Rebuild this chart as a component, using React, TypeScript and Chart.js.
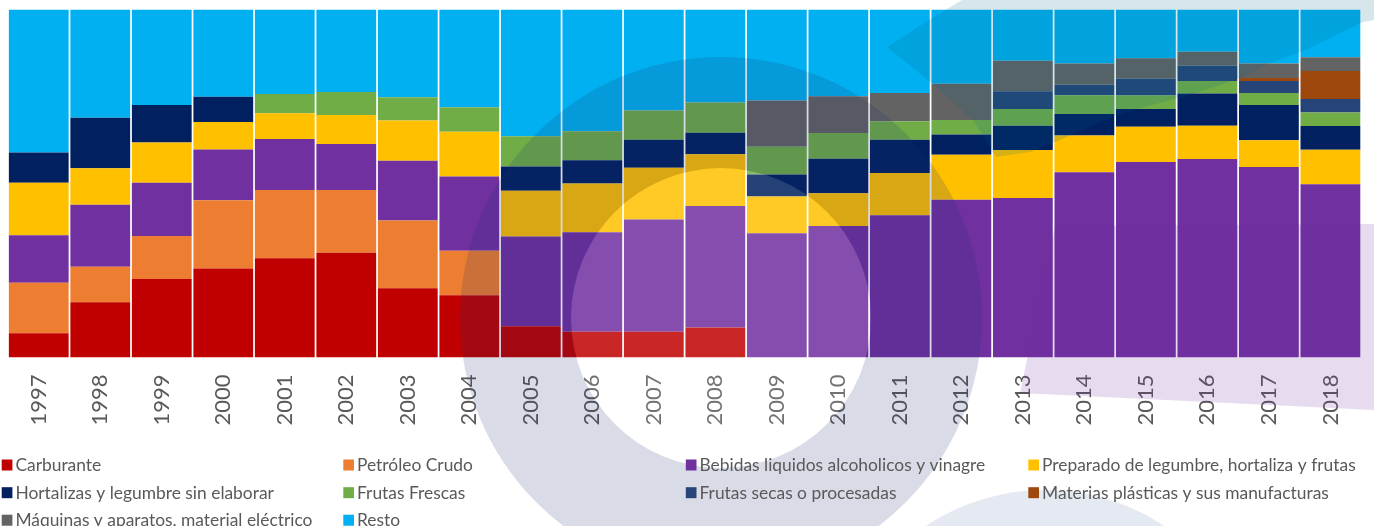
import React, { useEffect, useRef } from "react";
import { Chart, registerables } from "chart.js";

Chart.register(...registerables);

const years = ["1997", "1998", "1999", "2000", "2001", "2002", "2003", "2004", "2005", "2006", "2007", "2008", "2009", "2010", "2011", "2012", "2013", "2014", "2015", "2016", "2017", "2018"];

const carburante = [7.0, 15.9, 22.5, 25.6, 28.5, 30.1, 19.9, 17.9, 9.0, 7.4, 7.4, 8.6, 0, 0, 0, 0, 0, 0, 0, 0, 0, 0];
const petroleoCrudo = [14.5, 10.2, 12.4, 19.6, 19.6, 18.0, 19.4, 12.8, 0, 0, 0, 0, 0, 0, 0, 0, 0, 0, 0, 0, 0, 0];
const bebidas = [13.6, 17.8, 15.3, 14.6, 14.7, 13.2, 17.2, 21.3, 25.7, 28.6, 32.2, 34.9, 35.7, 37.8, 40.9, 45.3, 45.8, 53.2, 56.2, 57.0, 54.7, 49.8];
const preparado = [15.1, 10.5, 11.5, 7.9, 7.4, 8.3, 11.5, 12.9, 13.2, 14.0, 14.9, 14.9, 10.5, 9.4, 12.1, 12.9, 13.8, 10.5, 10.1, 9.5, 7.7, 9.9];
const hortalizas = [8.7, 14.5, 10.8, 7.2, 0, 0, 0, 0, 6.9, 6.7, 8.0, 6.2, 6.3, 9.9, 9.6, 5.8, 7.0, 6.2, 5.1, 9.3, 10.1, 6.8];
const frutasFrescas = [0, 0, 0, 0, 5.5, 6.6, 6.7, 7.0, 8.7, 8.3, 8.4, 8.7, 8.0, 7.4, 5.3, 4.2, 4.8, 5.4, 3.9, 3.6, 3.4, 3.9];
const frutasSecas = [0, 0, 0, 0, 0, 0, 0, 0, 0, 0, 0, 0, 0, 0, 0, 0, 5.1, 3.0, 4.8, 4.4, 3.5, 3.9];
const materiasPlasticas = [0, 0, 0, 0, 0, 0, 0, 0, 0, 0, 0, 0, 0, 0, 0, 0, 0, 0, 0, 0, 0.8, 8.0];
const maquinas = [0, 0, 0, 0, 0, 0, 0, 0, 0, 0, 0, 0, 13.3, 10.6, 8.1, 10.4, 8.8, 6.1, 5.9, 4.0, 4.2, 4.0];
const resto = [41.1, 31.1, 27.4, 25.1, 24.3, 23.7, 25.2, 28.1, 36.4, 35.0, 29.0, 26.7, 26.1, 24.9, 24.0, 21.3, 14.7, 15.5, 14.0, 12.1, 15.5, 13.7];

const seriesNames = [
  "Carburante",
  "Petróleo Crudo",
  "Bebidas liquidos alcoholicos y vinagre",
  "Preparado de legumbre, hortaliza y frutas",
  "Hortalizas y legumbre sin elaborar",
  "Frutas Frescas",
  "Frutas secas o procesadas",
  "Materias plásticas y sus manufacturas",
  "Máquinas y aparatos, material eléctrico",
  "Resto",
];
const seriesValues = [carburante, petroleoCrudo, bebidas, preparado, hortalizas, frutasFrescas, frutasSecas, materiasPlasticas, maquinas, resto];
const seriesColors = ["#C00000", "#ED7D31", "#7030A0", "#FFC000", "#002060", "#70AD47", "#264478", "#9E480E", "#636363", "#00B0F0"];

const FONT = "Lato, 'Open Sans', sans-serif";

const watermarkPlugin = {
  id: "watermark",
  afterDatasetsDraw(chart: any) {
    const ctx = chart.ctx as CanvasRenderingContext2D;
    ctx.save();
    // big ring
    ctx.beginPath();
    ctx.arc(721, 318, 261, 0, Math.PI * 2);
    ctx.arc(721, 318, 150, 0, Math.PI * 2, true);
    ctx.fillStyle = "rgba(32,49,114,0.17)";
    ctx.fill("evenodd");
    // inner light disc
    ctx.beginPath();
    ctx.arc(721, 318, 150, 0, Math.PI * 2);
    ctx.fillStyle = "rgba(255,255,255,0.15)";
    ctx.fill();
    // lavender band on the right
    ctx.beginPath();
    ctx.moveTo(1055, 226);
    ctx.lineTo(1374, 224);
    ctx.lineTo(1374, 410);
    ctx.lineTo(1020, 393);
    ctx.closePath();
    ctx.fillStyle = "rgba(112,48,160,0.17)";
    ctx.fill();
    // teal shape top right
    ctx.beginPath();
    ctx.moveTo(887, 47);
    ctx.lineTo(932, 18);
    ctx.lineTo(962, 0);
    ctx.lineTo(1374, 0);
    ctx.lineTo(1374, 20);
    ctx.lineTo(1363, 22);
    ctx.lineTo(1305, 50);
    ctx.lineTo(1270, 63);
    ctx.lineTo(1243, 77);
    ctx.lineTo(1193, 94);
    ctx.lineTo(1137, 109);
    ctx.lineTo(1110, 118);
    ctx.lineTo(1060, 140);
    ctx.lineTo(1030, 152);
    ctx.lineTo(996, 157);
    ctx.lineTo(973, 120);
    ctx.lineTo(934, 85);
    ctx.closePath();
    ctx.fillStyle = "rgba(0,100,130,0.16)";
    ctx.fill();
    // bottom right blue-grey circle
    ctx.beginPath();
    ctx.arc(1045, 705, 215, 0, Math.PI * 2);
    ctx.fillStyle = "rgba(40,70,140,0.12)";
    ctx.fill();
    ctx.restore();
  },
};

const legendPlugin = {
  id: "customLegend",
  afterDraw(chart: any) {
    const ctx = chart.ctx as CanvasRenderingContext2D;
    const colX = [1.7, 343.3, 685.8, 1028.3];
    const rowY = [465, 492.7, 520.2];
    ctx.save();
    ctx.font = `17.4px ${FONT}`;
    ctx.textBaseline = "middle";
    ctx.textAlign = "left";
    chart.data.datasets.forEach((ds: any, i: number) => {
      const c = i % 4;
      const r = Math.floor(i / 4);
      const x = colX[c];
      const y = rowY[r];
      ctx.fillStyle = ds.backgroundColor;
      ctx.fillRect(x, y - 5.5, 10.7, 11);
      ctx.fillStyle = "#595959";
      ctx.fillText(ds.label, x + 13.7, y + 0.5);
    });
    ctx.restore();
  },
};

export default function App() {
  const ref = useRef<HTMLCanvasElement>(null);
  useEffect(() => {
    document.body.style.margin = "0";
    const totals = years.map((_, j) => seriesValues.reduce((s, arr) => s + arr[j], 0));
    const chart = new Chart(ref.current as HTMLCanvasElement, {
      type: "bar",
      data: {
        labels: years,
        datasets: seriesNames.map((name, i) => ({
          label: name,
          data: seriesValues[i].map((v, j) => (v / totals[j]) * 100),
          backgroundColor: seriesColors[i],
          borderWidth: 0,
          barPercentage: 0.972,
          categoryPercentage: 1,
        })),
      },
      options: {
        animation: false,
        responsive: false,
        maintainAspectRatio: false,
        layout: { padding: { left: 8, right: 8.5, top: 9.5, bottom: 0 } },
        plugins: {
          legend: { display: false },
          tooltip: { enabled: false },
        },
        scales: {
          x: {
            stacked: true,
            grid: { display: false, drawTicks: false },
            border: { display: false },
            ticks: {
              minRotation: 90,
              maxRotation: 90,
              padding: 17,
              color: "#595959",
              font: { family: FONT, size: 22 },
            },
            afterFit: (scale: any) => {
              scale.height = 168.5;
            },
          },
          y: {
            stacked: true,
            display: false,
            min: 0,
            max: 100,
          },
        },
      },
      plugins: [watermarkPlugin, legendPlugin],
    });
    return () => chart.destroy();
  }, []);
  return (
    <div style={{ width: 1374, height: 526, position: "relative", background: "#ffffff" }}>
      <canvas ref={ref} width={1374} height={526} style={{ display: "block", width: 1374, height: 526 }} />
    </div>
  );
}
